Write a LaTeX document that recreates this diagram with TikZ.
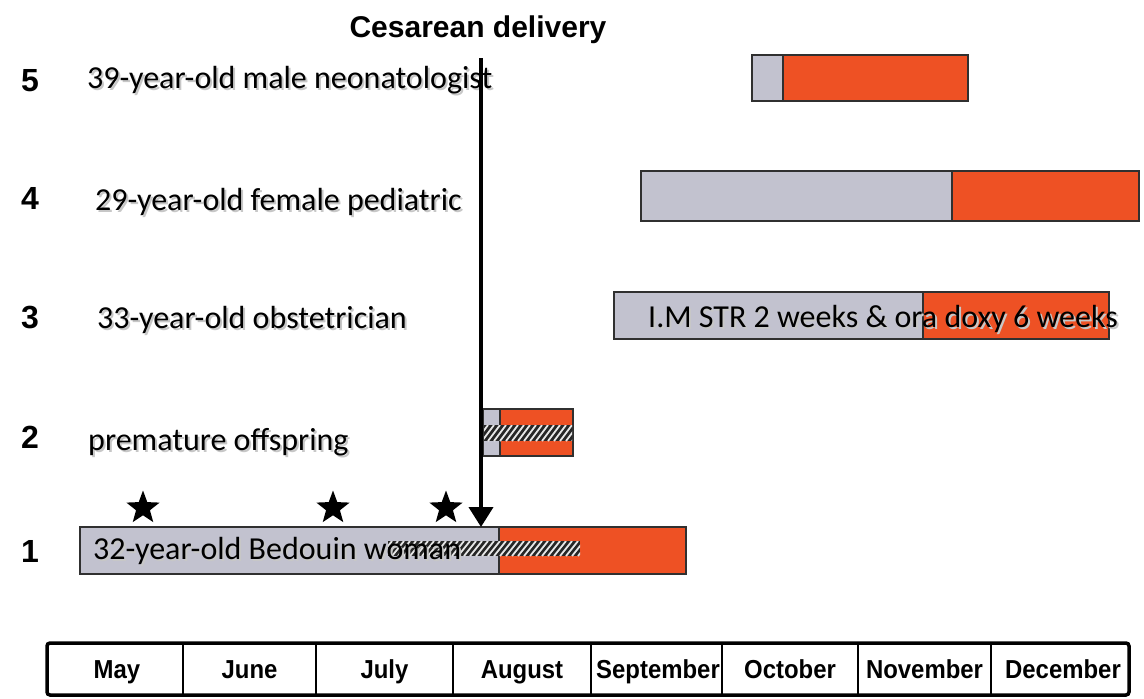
\documentclass[tikz,border=0pt]{standalone}
\usepackage{fontspec}
\setmainfont{Carlito}
\newfontfamily\helv{Liberation Sans}
\newfontfamily\helvnarrow[FakeStretch=0.92]{Liberation Sans}
\usetikzlibrary{shapes.geometric,arrows.meta}
\definecolor{bargray}{HTML}{C2C2CF}
\definecolor{barorange}{HTML}{EE5124}
\definecolor{edgecol}{HTML}{303030}
\newcommand\hatchband[4]{%
  \begin{scope}
    \clip (#1,#2) rectangle (#3,#4);
    \fill[black!85] (#1,#2) rectangle (#3,#4);
    \foreach \i in {0,...,50}{
      \draw[white!90!black,line width=1.8pt] ({#1-20+\i*6},#4) -- ++(12,{#2-#4});
    }
  \end{scope}}
\begin{document}
\begin{tikzpicture}[x=1pt,y=-1pt,
  lbl/.style={anchor=base west,inner sep=0pt,font=\fontsize{32}{36}\selectfont},
  lblshadow/.style={lbl,text=black!22},
  num/.style={anchor=base,inner sep=0pt,font=\helv\bfseries\fontsize{32}{36}\selectfont},
  month/.style={anchor=base,inner sep=0pt,font=\helvnarrow\bfseries\fontsize{26}{30}\selectfont},
  grayseg/.style={fill=bargray,draw=edgecol,line width=2pt},
  orangeseg/.style={fill=barorange,draw=edgecol,line width=2pt},
  starmark/.style={star,star points=5,star point ratio=2.4,fill=black,minimum size=35pt,inner sep=0pt}]
\useasboundingbox (0,0) rectangle (1144,699);

% title
\node[anchor=base,inner sep=0pt,font=\helv\bfseries\fontsize{30}{34}\selectfont] (title) at (478,37) {Cesarean delivery};

% row numbers
\node[num] (n5) at (30,91.5) {5};
\node[num] (n4) at (30,209.5) {4};
\node[num] (n3) at (30,328.5) {3};
\node[num] (n2) at (30,448.5) {2};
\node[num] (n1) at (30,562.5) {1};

% bars
\draw[grayseg] (752,55) rectangle (783,101);
\draw[orangeseg] (783,55) rectangle (968,101);
\draw[grayseg] (641,171) rectangle (952,221);
\draw[orangeseg] (952,171) rectangle (1139,221);
\draw[grayseg] (614,292) rectangle (923,339);
\draw[orangeseg] (923,292) rectangle (1109,339);
\draw[grayseg] (483,409) rectangle (500,456);
\draw[orangeseg] (500,409) rectangle (573,456);
\hatchband{484}{425}{572}{441}
\draw[grayseg] (80,527) rectangle (499,574);
\draw[orangeseg] (499,527) rectangle (686,574);
\hatchband{388}{541}{580}{556}

% labels with shadow
\node[lblshadow] (s5) at (89,90) {39-year-old male neonatologist};
\node[lbl] (l5) at (87,88) {39-year-old male neonatologist};
\node[lblshadow] (s4) at (97,212) {29-year-old female pediatric};
\node[lbl] (l4) at (95,210) {29-year-old female pediatric};
\node[lblshadow] (s3) at (99,330) {33-year-old obstetrician};
\node[lbl] (l3) at (97,328) {33-year-old obstetrician};
\node[lblshadow] (s3b) at (650,329) {I.M STR 2 weeks \& ora doxy 6 weeks};
\node[lbl] (l3b) at (648,327) {I.M STR 2 weeks \& ora doxy 6 weeks};
\node[lblshadow] (s2) at (90,452) {premature offspring};
\node[lbl] (l2) at (88,450) {premature offspring};
\node[lblshadow] (s1) at (95,561) {32-year-old Bedouin woman};
\node[lbl] (l1) at (93,559) {32-year-old Bedouin woman};

% stars
\node[starmark] (st1) at (143,508) {};
\node[starmark] (st2) at (333,508) {};
\node[starmark] (st3) at (446,508) {};

% cesarean arrow
\coordinate (cstop) at (481,58);
\coordinate (cstip) at (481,527);
\draw[line width=4pt,-{Triangle[width=24pt,length=20pt]}] (cstop) -- (cstip);

% month table
\draw[line width=3.5pt,rounded corners=3pt] (47,643) rectangle (1129,695);
\foreach \xd in {183,316,453,591,722,858,991}{
  \draw[line width=2.5pt] (\xd,643) -- (\xd,695);
}
\node[month] (m1) at (117,678) {May};
\node[month] (m2) at (249.5,678) {June};
\node[month] (m3) at (384.5,678) {July};
\node[month] (m4) at (522,678) {August};
\node[month] (m5) at (658,678) {September};
\node[month] (m6) at (790,678) {October};
\node[month] (m7) at (924.5,678) {November};
\node[month] (m8) at (1063,678) {December};
\end{tikzpicture}
\end{document}
